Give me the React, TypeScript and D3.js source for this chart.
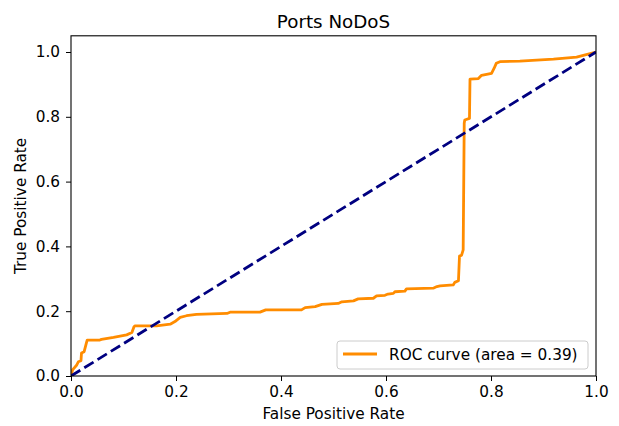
import * as d3 from 'd3'
import React, { useRef, useEffect } from 'react'

const title = 'Ports NoDoS'
const xLabel = 'False Positive Rate'
const yLabel = 'True Positive Rate'
const legendLabel = 'ROC curve (area = 0.39)'

const fpr = [
  0, 0.003, 0.011, 0.014, 0.019, 0.02, 0.025, 0.03, 0.031, 0.055, 0.058, 0.081, 0.106, 0.116, 0.12,
  0.122, 0.163, 0.189, 0.198, 0.208, 0.22, 0.239, 0.297, 0.303, 0.36, 0.371, 0.439, 0.446, 0.465,
  0.478, 0.509, 0.516, 0.538, 0.547, 0.576, 0.582, 0.598, 0.604, 0.614, 0.617, 0.636, 0.639, 0.69,
  0.697, 0.703, 0.728, 0.731, 0.738, 0.74, 0.744, 0.747, 0.749, 0.75, 0.759, 0.76, 0.776, 0.782,
  0.801, 0.806, 0.81, 0.817, 0.855, 0.919, 0.963, 1,
]
const tpr = [
  0, 0.019, 0.034, 0.044, 0.047, 0.071, 0.075, 0.106, 0.111, 0.111, 0.113, 0.119, 0.127, 0.134, 0.152,
  0.155, 0.155, 0.16, 0.168, 0.181, 0.186, 0.19, 0.193, 0.197, 0.197, 0.204, 0.204, 0.211, 0.214,
  0.221, 0.224, 0.229, 0.232, 0.238, 0.24, 0.247, 0.249, 0.253, 0.255, 0.26, 0.262, 0.269, 0.271,
  0.276, 0.278, 0.281, 0.289, 0.294, 0.37, 0.373, 0.389, 0.78, 0.79, 0.795, 0.916, 0.918, 0.928,
  0.934, 0.95, 0.965, 0.97, 0.972, 0.978, 0.984, 1,
]
const chance = [0, 1]
const xTicks = [0, 0.2, 0.4, 0.6, 0.8, 1.0]
const yTicks = [0, 0.2, 0.4, 0.6, 0.8, 1.0]

const App = () => {
  const ref = useRef(null)

  useEffect(() => {
    draw()
  }, [])

  const draw = () => {
    const totalWidth = 619
    const totalHeight = 426
    const font = 'DejaVu Sans, sans-serif'
    const fontSize = '15.3px'

    const svg = d3.select(ref.current).attr('width', totalWidth).attr('height', totalHeight)
    svg.selectAll('*').remove()

    const xScale = d3.scaleLinear().domain([0, 1]).range([71, 596])
    const yScale = d3.scaleLinear().domain([0, 1.05]).range([376, 35.8])

    svg.append('rect').attr('width', totalWidth).attr('height', totalHeight).attr('fill', '#fff')

    const clip = svg.append('clipPath').attr('id', 'plot-clip')
    clip
      .append('rect')
      .attr('x', xScale(0))
      .attr('y', yScale(1.05))
      .attr('width', xScale(1) - xScale(0))
      .attr('height', yScale(0) - yScale(1.05))

    const plot = svg.append('g').attr('clip-path', 'url(#plot-clip)')

    // ROC curve
    const line = d3
      .line()
      .x((d: any) => xScale(d[0]))
      .y((d: any) => yScale(d[1]))

    plot
      .append('path')
      .datum(fpr.map((f, i) => [f, tpr[i]]))
      .attr('fill', 'none')
      .attr('stroke', '#ff8c00')
      .attr('stroke-width', 2.8)
      .attr('stroke-linejoin', 'round')
      .attr('d', line as any)

    // chance line
    plot
      .append('path')
      .datum(chance.map((c) => [c, c]))
      .attr('fill', 'none')
      .attr('stroke', '#000080')
      .attr('stroke-width', 2.8)
      .attr('stroke-dasharray', '10.9,4.7')
      .attr('d', line as any)

    // axes
    const xAxis = d3
      .axisBottom(xScale)
      .tickValues(xTicks)
      .tickSize(5)
      .tickPadding(5)
      .tickFormat(d3.format('.1f') as any)
    const yAxis = d3
      .axisLeft(yScale)
      .tickValues(yTicks)
      .tickSize(5)
      .tickPadding(6)
      .tickFormat(d3.format('.1f') as any)

    const gx = svg.append('g').attr('transform', `translate(0,${yScale(0)})`).call(xAxis)
    const gy = svg.append('g').attr('transform', `translate(${xScale(0)},0)`).call(yAxis)
    ;[gx, gy].forEach((g) => {
      g.select('.domain').remove()
      g.selectAll('line').attr('stroke', '#000').attr('stroke-width', 1)
      g.selectAll('text').attr('fill', '#000').style('font-family', font).style('font-size', fontSize)
    })

    // frame
    svg
      .append('rect')
      .attr('x', xScale(0))
      .attr('y', yScale(1.05))
      .attr('width', xScale(1) - xScale(0))
      .attr('height', yScale(0) - yScale(1.05))
      .attr('fill', 'none')
      .attr('stroke', '#000')
      .attr('stroke-width', 1.1)

    // title and labels
    svg
      .append('text')
      .attr('x', (xScale(0) + xScale(1)) / 2)
      .attr('y', 28)
      .attr('text-anchor', 'middle')
      .style('font-family', font)
      .style('font-size', '18.3px')
      .text(title)

    svg
      .append('text')
      .attr('x', (xScale(0) + xScale(1)) / 2)
      .attr('y', 419)
      .attr('text-anchor', 'middle')
      .style('font-family', font)
      .style('font-size', fontSize)
      .text(xLabel)

    svg
      .append('text')
      .attr('transform', `translate(26,${(yScale(0) + yScale(1.05)) / 2}) rotate(-90)`)
      .attr('text-anchor', 'middle')
      .style('font-family', font)
      .style('font-size', fontSize)
      .text(yLabel)

    // legend
    const legend = svg.append('g').attr('transform', 'translate(337,341)')
    legend
      .append('rect')
      .attr('width', 251)
      .attr('height', 28)
      .attr('rx', 3)
      .attr('fill', '#fff')
      .attr('fill-opacity', 0.8)
      .attr('stroke', '#ccc')
      .attr('stroke-width', 1)
    legend
      .append('line')
      .attr('x1', 6)
      .attr('x2', 40)
      .attr('y1', 13)
      .attr('y2', 13)
      .attr('stroke', '#ff8c00')
      .attr('stroke-width', 2.8)
    legend
      .append('text')
      .attr('x', 52)
      .attr('y', 19)
      .style('font-family', font)
      .style('font-size', fontSize)
      .text(legendLabel)
  }

  return (
    <div style={{ position: 'absolute', left: 0, top: 0 }}>
      <svg ref={ref} style={{ display: 'block' }} />
    </div>
  )
}

export default App
